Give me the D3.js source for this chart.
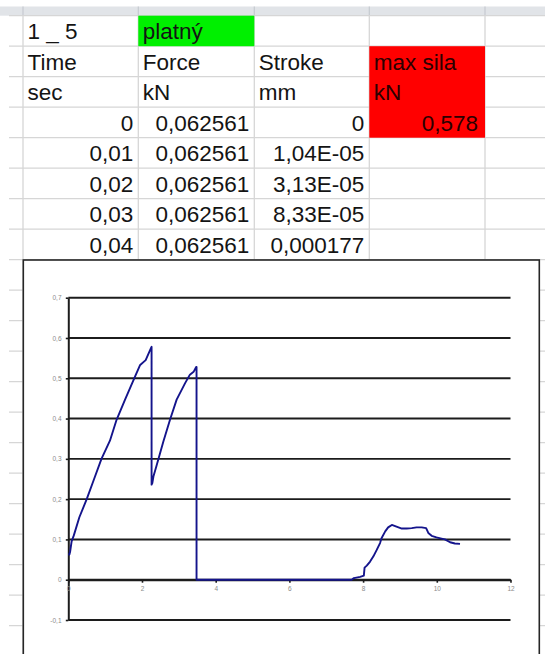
<!DOCTYPE html>
<html><head><meta charset="utf-8">
<script src="https://cdn.jsdelivr.net/npm/d3@7"></script>
<style>html,body{margin:0;padding:0;background:#fff;overflow:hidden}</style>
</head><body>
<script>
// ---- spreadsheet content ----
const sheetTitle = "1 _ 5";
const statusText = "platný";
const columnNames = ["Time", "Force", "Stroke", "max sila"];
const columnUnits = ["sec", "kN", "mm", "kN"];
const timeValues = ["0", "0,01", "0,02", "0,03", "0,04"];
const forceValues = ["0,062561", "0,062561", "0,062561", "0,062561", "0,062561"];
const strokeValues = ["0", "1,04E-05", "3,13E-05", "8,33E-05", "0,000177"];
const maxForce = "0,578";

// ---- chart series (time, force) ----
const curveTime = [0, 0.03, 0.05, 0.09, 0.15, 0.3, 0.5, 0.7, 0.9, 1.13, 1.31, 1.54, 1.81, 1.95, 2.1, 2.24, 2.26,
  2.26, 2.28, 2.31, 2.4, 2.49, 2.58, 2.76, 2.94, 3.17, 3.3, 3.4, 3.47, 3.48,
  3.48, 3.52, 5.0, 7.69, 7.75, 7.92, 8.02, 8.04, 8.1, 8.19, 8.28, 8.37, 8.46, 8.5, 8.6, 8.68, 8.78, 8.87,
  8.96, 9.05, 9.18, 9.32, 9.45, 9.59, 9.71, 9.77, 9.86, 9.99, 10.13, 10.22, 10.36, 10.49, 10.63];
const curveForce = [0.0626, 0.0626, 0.07, 0.095, 0.11, 0.155, 0.2, 0.25, 0.3, 0.345, 0.397, 0.447, 0.504, 0.533, 0.545, 0.574, 0.578,
  0.236, 0.24, 0.256, 0.285, 0.314, 0.343, 0.397, 0.447, 0.488, 0.509, 0.516, 0.528, 0.528,
  0.0, 0.0, 0.0, 0.0, 0.004, 0.007, 0.01, 0.03, 0.035, 0.045, 0.058, 0.074, 0.091, 0.103, 0.12, 0.13, 0.136, 0.133,
  0.13, 0.127, 0.127, 0.128, 0.13, 0.13, 0.128, 0.116, 0.109, 0.105, 0.102, 0.1, 0.093, 0.09, 0.089];
const xTicks = [0, 2, 4, 6, 8, 10, 12];
const yTicks = [-0.1, 0, 0.1, 0.2, 0.3, 0.4, 0.5, 0.6, 0.7];

// ---- layout ----
const W = 545, H = 654;
const colX = [23, 138.3, 254.3, 369.3, 485, 600];
const row0 = 15.7, rowH = 30.5;
const rowTop = i => row0 + i * rowH;
const FONT = "'Liberation Sans', Arial, sans-serif";

const svg = d3.select("body").append("svg").attr("width", W).attr("height", H)
  .style("display", "block");

// header band
svg.append("rect").attr("x", 0).attr("y", 6.5).attr("width", W).attr("height", row0 - 6.5).attr("fill", "#e1e4e8");
svg.selectAll("line.hsep").data(colX).join("line")
  .attr("x1", d => d).attr("x2", d => d).attr("y1", 6.5).attr("y2", row0)
  .attr("stroke", "#c6cad0").attr("stroke-width", 1.2);

// grid
const rows = d3.range(0, 22);
svg.selectAll("line.rowline").data(rows).join("line")
  .attr("x1", 9).attr("x2", W).attr("y1", d => rowTop(d)).attr("y2", d => rowTop(d))
  .attr("stroke", "#d6d6d6").attr("stroke-width", 1.3);
svg.selectAll("line.colline").data(colX).join("line")
  .attr("x1", d => d).attr("x2", d => d).attr("y1", row0).attr("y2", H)
  .attr("stroke", "#d6d6d6").attr("stroke-width", 1.3);

// coloured cells
svg.append("rect").attr("x", colX[1]).attr("y", rowTop(0)).attr("width", colX[2] - colX[1]).attr("height", rowH)
  .attr("fill", "#00f000");
svg.append("rect").attr("x", colX[3]).attr("y", rowTop(1)).attr("width", colX[4] - colX[3]).attr("height", rowH * 3)
  .attr("fill", "#ff0000");

function cellText(col, row, txt, align, color) {
  const x = align === "end" ? colX[col + 1] - 5 : colX[col] + 4.5;
  svg.append("text").attr("x", x).attr("y", rowTop(row) + 23.6)
    .attr("text-anchor", align === "end" ? "end" : "start")
    .attr("font-family", FONT).attr("font-size", 22.5)
    .attr("fill", color || "#141414").text(txt);
}
cellText(0, 0, sheetTitle, "start");
cellText(1, 0, statusText, "start");
columnNames.forEach((t, i) => cellText(i, 1, t, "start", i === 3 ? "#2a0000" : null));
columnUnits.forEach((t, i) => cellText(i, 2, t, "start", i === 3 ? "#2a0000" : null));
timeValues.forEach((t, i) => cellText(0, 3 + i, t, "end"));
forceValues.forEach((t, i) => cellText(1, 3 + i, t, "end"));
strokeValues.forEach((t, i) => cellText(2, 3 + i, t, "end"));
svg.append("text").attr("x", colX[4] - 7).attr("y", rowTop(3) + 23.6).attr("text-anchor", "end")
  .attr("font-family", FONT).attr("font-size", 22.5).attr("fill", "#2a0000").text(maxForce);

// ---- chart object ----
svg.append("rect").attr("x", 23.3).attr("y", 260).attr("width", 539.3 - 23.3).attr("height", 420)
  .attr("fill", "#fff").attr("stroke", "#262626").attr("stroke-width", 1.6);

const x = d3.scaleLinear().domain([0, 12]).range([68.3, 510.5]);
const y = d3.scaleLinear().domain([-0.1, 0.7]).range([620, 297.7]);
const fmt = v => (Math.abs(v) < 1e-9 ? "0" : String(+v.toFixed(1)).replace(".", ","));

// gridlines
svg.append("g").selectAll("line").data(yTicks).join("line")
  .attr("x1", x(0)).attr("x2", x(12)).attr("y1", d => y(d)).attr("y2", d => y(d))
  .attr("stroke", "#1c1c1c").attr("stroke-width", 1.9);

// y axis
const gy = svg.append("g").attr("transform", `translate(${x(0)},0)`)
  .call(d3.axisLeft(y).tickValues(yTicks).tickSize(2.5).tickSizeOuter(0).tickPadding(4.3).tickFormat(fmt));
gy.select(".domain").attr("stroke", "#1c1c1c").attr("stroke-width", 2);
gy.selectAll(".tick line").attr("stroke", "#1c1c1c").attr("stroke-width", 1.6);
gy.selectAll("text").attr("font-family", FONT).attr("font-size", 6.5).attr("fill", "#8c8c8c");

// x axis at zero
const gx = svg.append("g").attr("transform", `translate(0,${y(0)})`)
  .call(d3.axisBottom(x).tickValues(xTicks).tickSize(3).tickSizeOuter(0).tickPadding(4).tickFormat(d3.format("d")));
gx.select(".domain").attr("stroke", "#1c1c1c").attr("stroke-width", 1.9);
gx.selectAll(".tick line").attr("stroke", "#1c1c1c").attr("stroke-width", 1.6);
gx.selectAll("text").attr("font-family", FONT).attr("font-size", 6.5).attr("fill", "#8c8c8c");

// series
const pts = curveTime.map((t, i) => [t, curveForce[i]]);
svg.append("path").datum(pts)
  .attr("d", d3.line().x(d => x(d[0])).y(d => y(d[1])))
  .attr("fill", "none").attr("stroke", "#14148c").attr("stroke-width", 1.9)
  .attr("stroke-linejoin", "round");
</script>
</body></html>
